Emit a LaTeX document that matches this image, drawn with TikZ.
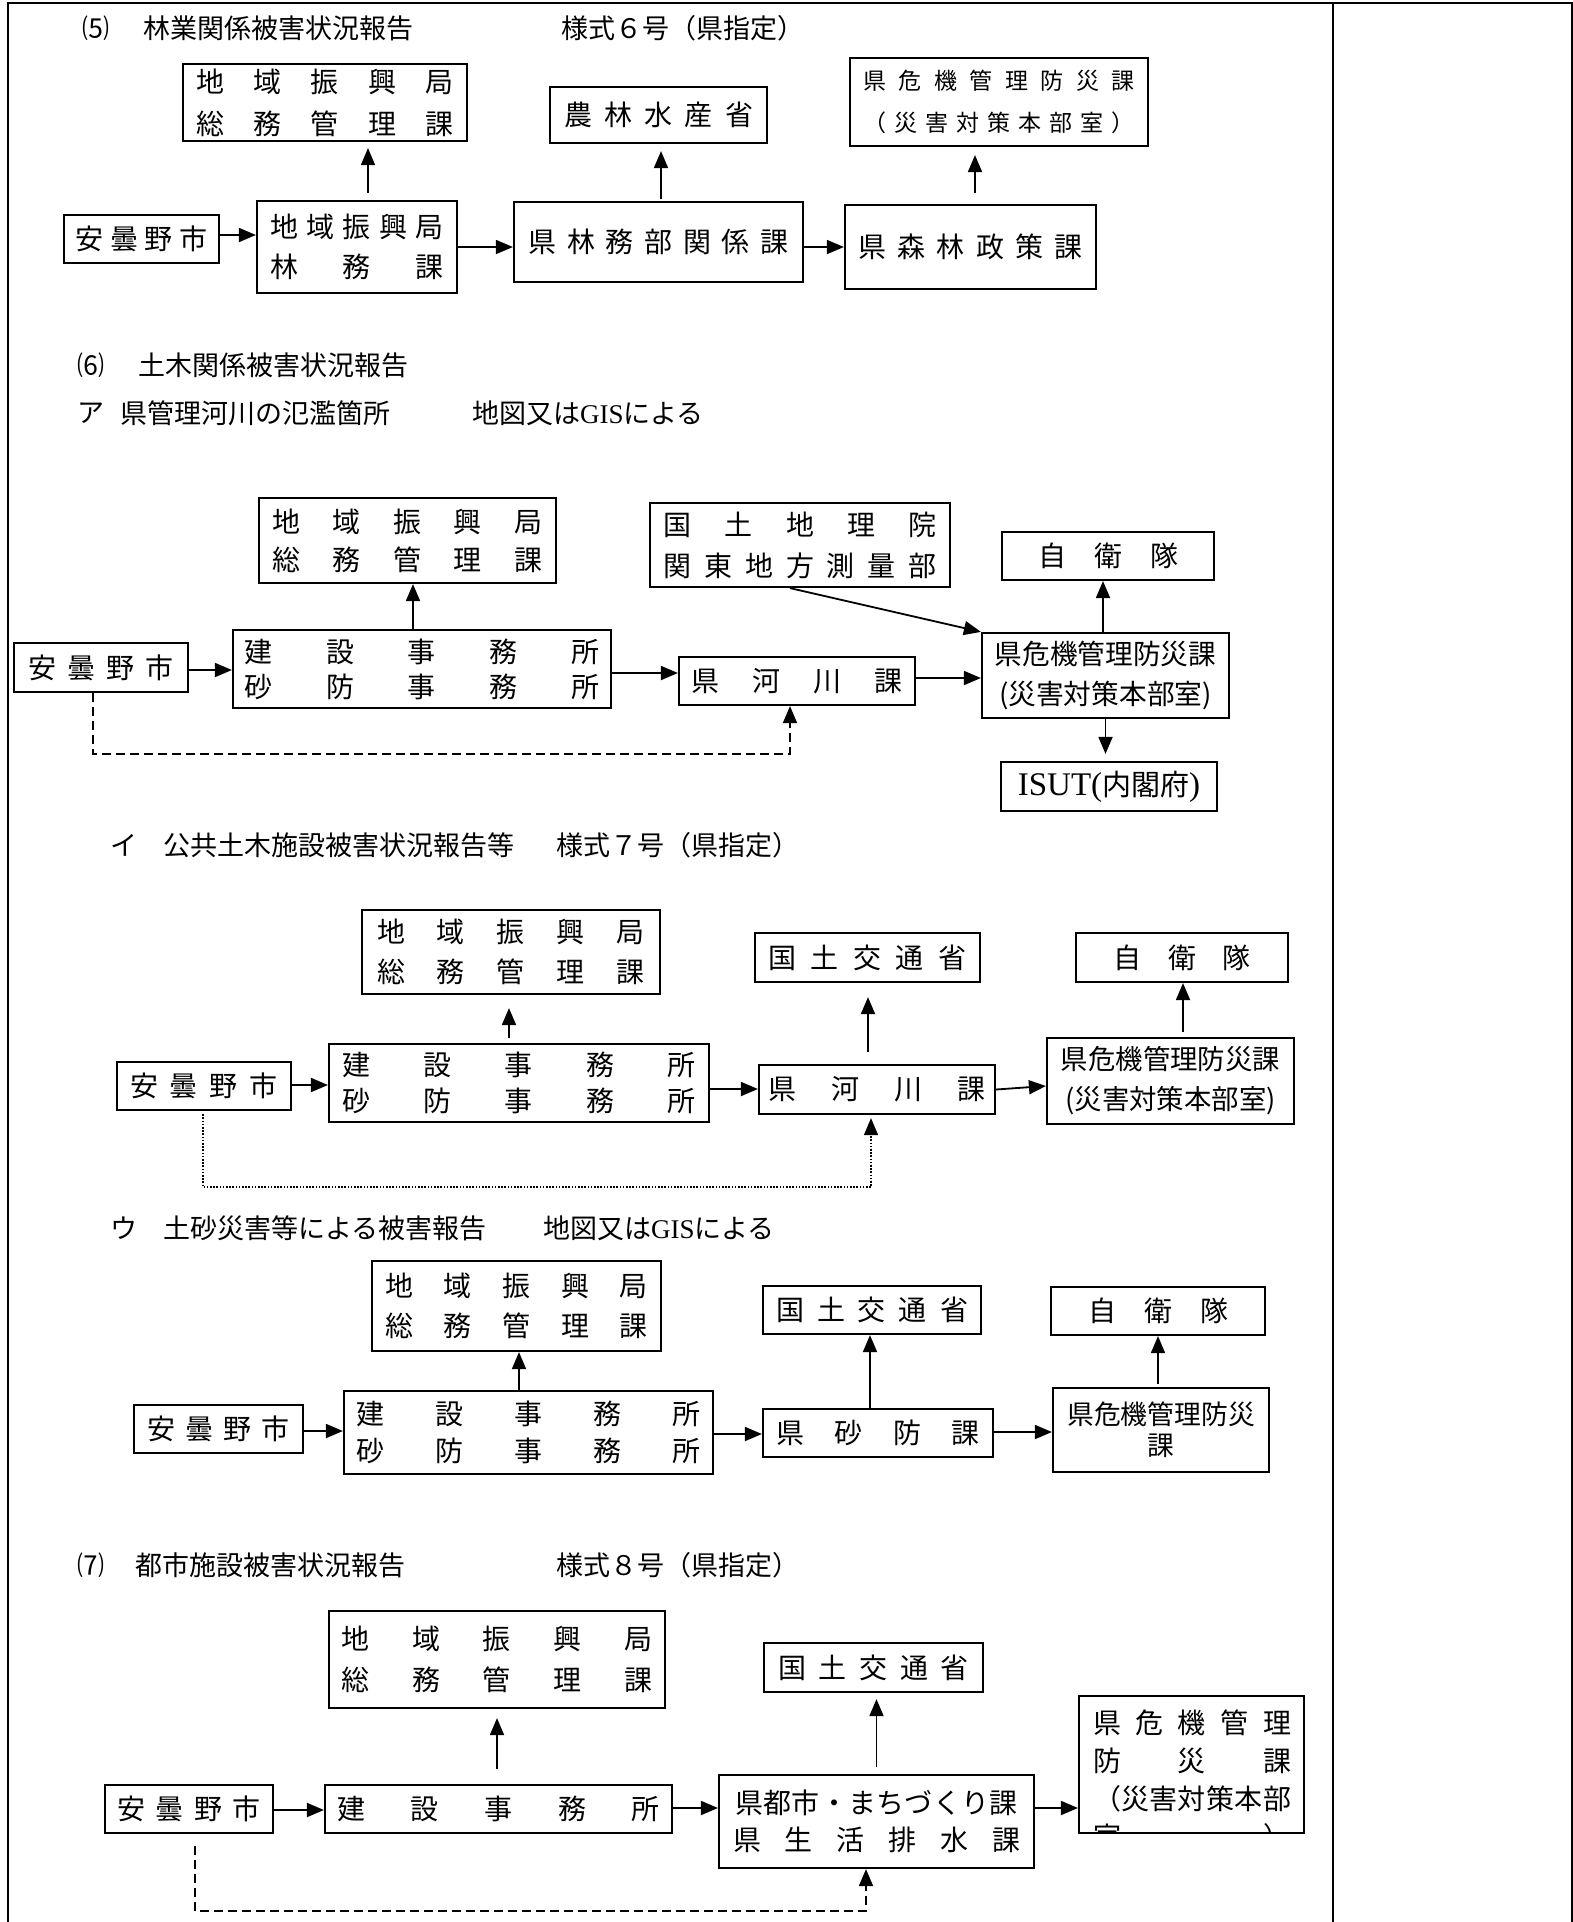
\documentclass[tikz,border=0pt]{standalone}
\usepackage{fontspec}
\newfontfamily\jp{Noto Sans CJK JP}
\newfontfamily\lat{Liberation Serif}
\usetikzlibrary{arrows.meta,calc}
\newcommand{\fs}[2]{\jp\fontsize{#1}{#2}\selectfont}
\newcommand{\spr}[2]{\makebox[#1pt][s]{#2}}
\begin{document}
\begin{tikzpicture}[x=1pt,y=-1pt,
  box/.style={draw, line width=2.2pt, inner sep=0pt, align=center, font=\fs{28}{40}},
  ttl/.style={anchor=west, inner sep=0pt, font=\fs{27}{30}},
  arr/.style={line width=1.8pt, -{Triangle[length=17pt,width=14pt]}},
  dashedln/.style={line width=1.8pt, dash pattern=on 9pt off 5pt, -{Triangle[length=17pt,width=14pt]}},
  dottedln/.style={line width=1.6pt, dash pattern=on 1.6pt off 1.6pt, -{Triangle[length=17pt,width=14pt]}}]
\useasboundingbox (0,0) rectangle (1573,1922);
\fill[white] (0,0) rectangle (1573,1922);
% frame
\draw[line width=2.5pt] (8,1922) -- (8,3) -- (1572,3) -- (1572,1922);
\draw[line width=2.5pt] (1333,3) -- (1333,1922);

% ---------- titles ----------
\node[ttl] (t5a) at (82,28) {⑸};
\node[ttl] (t5b) at (143,28) {林業関係被害状況報告};
\node[ttl] (t5c) at (561,28) {様式６号（県指定）};
\node[ttl] (t6a) at (77,365) {⑹};
\node[ttl] (t6b) at (138,365) {土木関係被害状況報告};
\node[ttl] (t6c) at (77,413) {ア};
\node[ttl] (t6d) at (120,413) {県管理河川の氾濫箇所};
\node[ttl] (t6e) at (472,413) {地図又は{\lat GIS}による};
\node[ttl] (t7a) at (110,845) {イ};
\node[ttl] (t7b) at (163,845) {公共土木施設被害状況報告等};
\node[ttl] (t7c) at (556,845) {様式７号（県指定）};
\node[ttl] (t8a) at (110,1228) {ウ};
\node[ttl] (t8b) at (163,1228) {土砂災害等による被害報告};
\node[ttl] (t8c) at (543,1228) {地図又は{\lat GIS}による};
\node[ttl] (t9a) at (77,1565) {⑺};
\node[ttl] (t9b) at (135,1565) {都市施設被害状況報告};
\node[ttl] (t9c) at (556,1565) {様式８号（県指定）};

% ---------- (5) ----------
\node[box, minimum width=155pt, minimum height=48pt] (a5) at (141.5,239) {\spr{132}{安\hfill{}曇\hfill{}野\hfill{}市}};
\node[box, minimum width=200pt, minimum height=92pt] (b5) at (357,247) {\spr{174}{地\hfill{}域\hfill{}振\hfill{}興\hfill{}局}\\\spr{174}{林\hfill{}務\hfill{}課}};
\node[box, minimum width=284pt, minimum height=77pt, font=\fs{28}{42}] (c5) at (325,102.5) {\spr{258}{地\hfill{}域\hfill{}振\hfill{}興\hfill{}局}\\\spr{258}{総\hfill{}務\hfill{}管\hfill{}理\hfill{}課}};
\node[box, minimum width=289pt, minimum height=80pt] (d5) at (658.5,242) {\spr{260}{県\hfill{}林\hfill{}務\hfill{}部\hfill{}関\hfill{}係\hfill{}課}};
\node[box, minimum width=217pt, minimum height=56pt] (e5) at (658.5,115) {\spr{189}{農\hfill{}林\hfill{}水\hfill{}産\hfill{}省}};
\node[box, minimum width=251pt, minimum height=84pt] (f5) at (970.5,247) {\spr{225}{県\hfill{}森\hfill{}林\hfill{}政\hfill{}策\hfill{}課}};
\node[box, minimum width=298pt, minimum height=88pt, font=\fs{23}{42}] (g5) at (999,102) {\spr{271}{県\hfill{}危\hfill{}機\hfill{}管\hfill{}理\hfill{}防\hfill{}災\hfill{}課}\\\spr{271}{（\hfill{}災\hfill{}害\hfill{}対\hfill{}策\hfill{}本\hfill{}部\hfill{}室\hfill{}）}};

\draw[arr] ([yshift=4pt]a5.east) -- ([yshift=4pt]a5.east -| b5.west);
\draw[arr] (b5.east) -- (b5.east -| d5.west);
\draw[arr, shorten <=7pt, shorten >=6pt] ([xshift=11pt]b5.north) -- ([xshift=11pt]b5.north |- c5.south);
\draw[arr, shorten <=2pt, shorten >=7pt] ([xshift=2.5pt]d5.north) -- ([xshift=2.5pt]d5.north |- e5.south);
\draw[arr] ([yshift=-5pt]d5.east) -- ([yshift=-5pt]d5.east -| f5.west);
\draw[arr, shorten <=11pt, shorten >=8pt] ([xshift=4.5pt]f5.north) -- ([xshift=4.5pt]f5.north |- g5.south);

% ---------- (6) ア ----------
\node[box, minimum width=174pt, minimum height=49pt] (a6) at (101,667.5) {\spr{145}{安\hfill{}曇\hfill{}野\hfill{}市}};
\node[box, minimum width=378pt, minimum height=78pt, font=\fs{28}{35}] (b6) at (422,669) {\spr{355}{建\hfill{}設\hfill{}事\hfill{}務\hfill{}所}\\\spr{355}{砂\hfill{}防\hfill{}事\hfill{}務\hfill{}所}};
\node[box, minimum width=297pt, minimum height=85pt, font=\fs{28}{38}] (c6) at (407.5,540.5) {\spr{270}{地\hfill{}域\hfill{}振\hfill{}興\hfill{}局}\\\spr{270}{総\hfill{}務\hfill{}管\hfill{}理\hfill{}課}};
\node[box, minimum width=300pt, minimum height=84pt, font=\fs{28}{41}] (d6) at (800,545) {\spr{273}{国\hfill{}土\hfill{}地\hfill{}理\hfill{}院}\\\spr{273}{関\hfill{}東\hfill{}地\hfill{}方\hfill{}測\hfill{}量\hfill{}部}};
\node[box, minimum width=236pt, minimum height=48pt] (e6) at (797,681) {\spr{212}{県\hfill{}河\hfill{}川\hfill{}課}};
\node[box, minimum width=247pt, minimum height=85pt, font=\fs{27.7}{40}] (f6) at (1105.5,675.5) {県危機管理防災課\\(災害対策本部室)};
\node[box, minimum width=212pt, minimum height=48pt] (g6) at (1108,556) {\spr{140}{自\hfill{}衛\hfill{}隊}};
\node[box, minimum width=216pt, minimum height=49pt, font=\fs{29}{36}] (h6) at (1109,786.5) {{\lat\fontsize{33}{36}\selectfont ISUT(}内閣府{\lat\fontsize{33}{36}\selectfont )}};

\draw[arr] ([yshift=-2.5pt]a6.east) -- ([yshift=-2.5pt]a6.east -| b6.west);
\draw[arr] ([yshift=-4pt]b6.east) -- ([yshift=-4pt]b6.east -| e6.west);
\draw[arr] ([xshift=-9pt]b6.north) -- ([xshift=-9pt]b6.north |- c6.south);
\draw[arr] ([xshift=-10pt]d6.south) -- (f6.north west);
\draw[arr] ([yshift=3pt]e6.east) -- ([yshift=3pt]e6.east -| f6.west);
\draw[arr] ([xshift=-2.5pt]f6.north) -- ([xshift=-2.5pt]f6.north |- g6.south);
\draw[arr, shorten >=7pt] (f6.south) -- (f6.south |- h6.north);
\draw[dashedln] ([xshift=-8pt]a6.south) -- ++(0,61) -| ([xshift=-7pt]e6.south);

% ---------- イ ----------
\node[box, minimum width=174pt, minimum height=48pt] (a7) at (204,1086) {\spr{148}{安\hfill{}曇\hfill{}野\hfill{}市}};
\node[box, minimum width=380pt, minimum height=78pt, font=\fs{28}{36}] (b7) at (519,1083) {\spr{353}{建\hfill{}設\hfill{}事\hfill{}務\hfill{}所}\\\spr{353}{砂\hfill{}防\hfill{}事\hfill{}務\hfill{}所}};
\node[box, minimum width=298pt, minimum height=84pt] (c7) at (511,952) {\spr{268}{地\hfill{}域\hfill{}振\hfill{}興\hfill{}局}\\\spr{268}{総\hfill{}務\hfill{}管\hfill{}理\hfill{}課}};
\node[box, minimum width=225pt, minimum height=49pt] (d7) at (867.5,957.5) {\spr{198}{国\hfill{}土\hfill{}交\hfill{}通\hfill{}省}};
\node[box, minimum width=236pt, minimum height=49pt] (e7) at (877,1089.5) {\spr{217}{県\hfill{}河\hfill{}川\hfill{}課}};
\node[box, minimum width=212pt, minimum height=49pt] (f7) at (1182,957.5) {\spr{138}{自\hfill{}衛\hfill{}隊}};
\node[box, minimum width=247pt, minimum height=86pt, font=\fs{27.4}{40}] (g7) at (1170.5,1081) {県危機管理防災課\\(災害対策本部室)};

\draw[arr] ([yshift=1pt]a7.east) -- ([yshift=1pt]a7.east -| b7.west);
\draw[arr] ([yshift=-6pt]b7.east) -- ([yshift=-6pt]b7.east -| e7.west);
\draw[arr, shorten <=5pt, shorten >=13pt] ([xshift=-10pt]b7.north) -- ([xshift=-10pt]b7.north |- c7.south);
\draw[arr] (e7.east) -- ([yshift=-5pt]g7.west);
\draw[arr, shorten <=12pt, shorten >=14pt] ([xshift=-9pt]e7.north) -- ([xshift=-9pt]e7.north |- d7.south);
\draw[arr, shorten <=5pt] ([xshift=12.5pt]g7.north) -- ([xshift=12.5pt]g7.north |- f7.south);
\draw[dottedln, shorten <=3pt, shorten >=3pt] ([xshift=-1pt]a7.south) -- ++(0,76) -| ([xshift=-6pt]e7.south);

% ---------- ウ ----------
\node[box, minimum width=169pt, minimum height=48pt] (a8) at (218.5,1429) {\spr{142}{安\hfill{}曇\hfill{}野\hfill{}市}};
\node[box, minimum width=369pt, minimum height=83pt, font=\fs{28}{37}] (b8) at (528.5,1432.5) {\spr{345}{建\hfill{}設\hfill{}事\hfill{}務\hfill{}所}\\\spr{345}{砂\hfill{}防\hfill{}事\hfill{}務\hfill{}所}};
\node[box, minimum width=289pt, minimum height=90pt] (c8) at (516.5,1306) {\spr{263}{地\hfill{}域\hfill{}振\hfill{}興\hfill{}局}\\\spr{263}{総\hfill{}務\hfill{}管\hfill{}理\hfill{}課}};
\node[box, minimum width=218pt, minimum height=48pt] (d8) at (872,1310) {\spr{192}{国\hfill{}土\hfill{}交\hfill{}通\hfill{}省}};
\node[box, minimum width=230pt, minimum height=48pt] (e8) at (878,1433) {\spr{204}{県\hfill{}砂\hfill{}防\hfill{}課}};
\node[box, minimum width=214pt, minimum height=48pt] (f8) at (1158,1311) {\spr{140}{自\hfill{}衛\hfill{}隊}};
\node[box, minimum width=216pt, minimum height=84pt, font=\fs{26.8}{31}] (g8) at (1161,1430) {県危機管理防災\\課};

\draw[arr] ([yshift=-2pt]a8.east) -- ([yshift=-2pt]a8.east -| b8.west);
\draw[arr] ([yshift=-1.5pt]b8.east) -- ([yshift=-1.5pt]b8.east -| e8.west);
\draw[arr] ([xshift=-9.5pt]b8.north) -- ([xshift=-9.5pt]b8.north |- c8.south);
\draw[arr] ([yshift=1pt]e8.east) -- ([yshift=1pt]e8.east -| g8.west);
\draw[arr] ([xshift=-8pt]e8.north) -- ([xshift=-8pt]e8.north |- d8.south);
\draw[arr, shorten <=3pt] ([xshift=-3pt]g8.north) -- ([xshift=-3pt]g8.north |- f8.south);

% ---------- (7) ----------
\node[box, minimum width=168pt, minimum height=48pt] (a9) at (189,1809) {\spr{143}{安\hfill{}曇\hfill{}野\hfill{}市}};
\node[box, minimum width=347pt, minimum height=48pt] (b9) at (498.5,1809) {\spr{323}{建\hfill{}設\hfill{}事\hfill{}務\hfill{}所}};
\node[box, minimum width=336pt, minimum height=97pt, font=\fs{28}{41}] (c9) at (497,1659.5) {\spr{311}{地\hfill{}域\hfill{}振\hfill{}興\hfill{}局}\\\spr{311}{総\hfill{}務\hfill{}管\hfill{}理\hfill{}課}};
\node[box, minimum width=219pt, minimum height=49pt] (d9) at (873.5,1667.5) {\spr{191}{国\hfill{}土\hfill{}交\hfill{}通\hfill{}省}};
\node[box, minimum width=315pt, minimum height=93pt, font=\fs{28}{37}] (e9) at (876.5,1821.5) {\spr{282}{県\hfill{}都\hfill{}市\hfill{}・\hfill{}ま\hfill{}ち\hfill{}づ\hfill{}く\hfill{}り\hfill{}課}\\\spr{287}{県\hfill{}生\hfill{}活\hfill{}排\hfill{}水\hfill{}課}};
\begin{scope}
\clip (1079,1696) rectangle (1304,1833);
\node[inner sep=0pt, align=center, font=\fs{28}{38.3}] (f9t) at (1192,1780) {\spr{198}{県\hfill{}危\hfill{}機\hfill{}管\hfill{}理}\\\spr{198}{防\hfill{}災\hfill{}課}\\\spr{198}{（\hfill{}災\hfill{}害\hfill{}対\hfill{}策\hfill{}本\hfill{}部}\\\spr{198}{室\hfill{}）}};
\end{scope}
\node[box, minimum width=225pt, minimum height=137pt] (f9) at (1191.5,1764.5) {};

\draw[arr] ([yshift=-1pt]a9.east) -- ([yshift=-1pt]a9.east -| b9.west);
\draw[arr] ([yshift=1pt]b9.east) -- ([yshift=1pt]b9.east -| e9.west);
\draw[arr, shorten <=15pt, shorten >=9pt] ([xshift=-1.5pt]b9.north) -- ([xshift=-1.5pt]b9.north |- c9.south);
\draw[arr, shorten <=7pt, shorten >=6pt] (e9.north) -- (e9.north |- d9.south);
\draw[arr] ([yshift=13.5pt]e9.east) -- ([yshift=13.5pt]e9.east -| f9.west);
\draw[dashedln, shorten <=12pt] ([xshift=6pt]a9.south) -- ++(0,77) -| ([xshift=-10.5pt]e9.south);
\end{tikzpicture}
\end{document}
